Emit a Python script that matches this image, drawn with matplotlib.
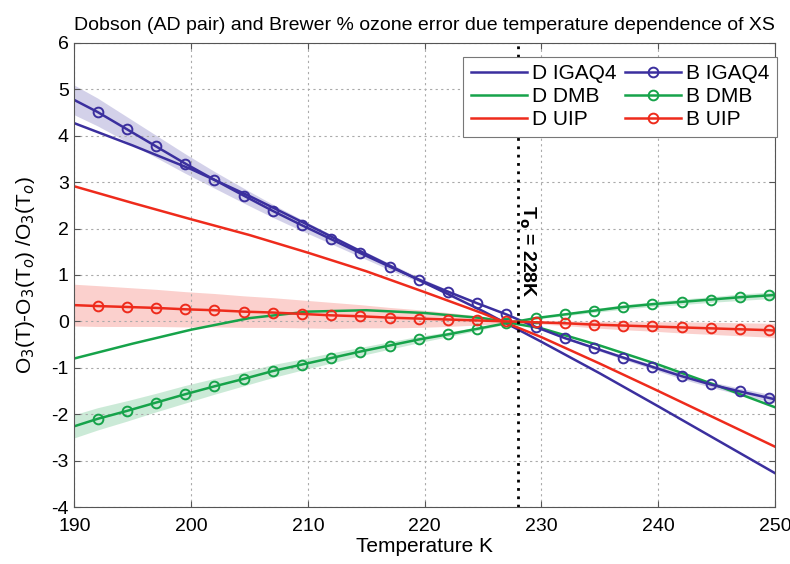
import numpy as np
import matplotlib.pyplot as plt

# temperature grids
T_D = [190, 195, 200, 205, 210, 215, 220, 225, 230, 235, 240, 245, 250]
T_B = [190, 192, 194.5, 197, 199.5, 202, 204.5, 207, 209.5, 212, 214.5, 217, 219.5,
       222, 224.5, 227, 229.5, 232, 234.5, 237, 239.5, 242, 244.5, 247, 249.5, 250]

# Dobson (solid lines)
d_igaq4 = [4.27, 3.79, 3.28, 2.70, 2.08, 1.45, 0.83, 0.22, -0.44, -1.12, -1.83, -2.55, -3.27]
d_dmb = [-0.80, -0.48, -0.18, 0.07, 0.21, 0.24, 0.18, 0.07, -0.15, -0.52, -0.93, -1.38, -1.85]
d_uip = [2.91, 2.55, 2.20, 1.86, 1.48, 1.08, 0.63, 0.17, -0.34, -0.91, -1.50, -2.10, -2.70]

# Brewer (lines with circles) and uncertainty half widths
b_igaq4 = [4.77, 4.51, 4.14, 3.77, 3.40, 3.05, 2.71, 2.38, 2.07, 1.77, 1.47, 1.18, 0.90,
           0.64, 0.39, 0.15, -0.12, -0.36, -0.57, -0.78, -0.98, -1.18, -1.36, -1.51, -1.65, -1.68]
b_dmb = [-2.26, -2.10, -1.93, -1.75, -1.57, -1.40, -1.24, -1.07, -0.93, -0.79, -0.65, -0.52, -0.39,
         -0.28, -0.16, -0.04, 0.07, 0.15, 0.23, 0.31, 0.37, 0.42, 0.47, 0.52, 0.56, 0.57]
b_uip = [0.35, 0.33, 0.31, 0.29, 0.26, 0.24, 0.21, 0.19, 0.16, 0.13, 0.11, 0.08, 0.06,
         0.04, 0.02, 0.00, -0.02, -0.04, -0.07, -0.09, -0.11, -0.13, -0.15, -0.17, -0.19, -0.20]
err_igaq4 = [0.32, 0.30, 0.27, 0.24, 0.21, 0.18, 0.16, 0.14, 0.12, 0.10, 0.08, 0.07, 0.05,
             0.04, 0.02, 0.01, 0.01, 0.02, 0.03, 0.04, 0.05, 0.06, 0.06, 0.07, 0.08, 0.08]
err_dmb = [0.25, 0.24, 0.22, 0.20, 0.19, 0.17, 0.15, 0.14, 0.12, 0.11, 0.09, 0.08, 0.07,
           0.05, 0.04, 0.02, 0.02, 0.03, 0.04, 0.05, 0.05, 0.06, 0.06, 0.07, 0.07, 0.07]
err_uip = [0.45, 0.44, 0.42, 0.40, 0.38, 0.36, 0.34, 0.32, 0.30, 0.28, 0.25, 0.22, 0.19,
           0.15, 0.10, 0.05, 0.03, 0.05, 0.07, 0.09, 0.10, 0.12, 0.13, 0.14, 0.15, 0.16]

T0 = 228

blue = '#3b2f9e'
green = '#16a34a'
red = '#ee2b1c'

plt.rcParams['font.family'] = ['Liberation Sans', 'DejaVu Sans']
plt.rcParams['axes.unicode_minus'] = False

fig = plt.figure(figsize=(7.9, 5.64), dpi=100)
ax = fig.add_axes([0.094, 0.101, 0.887, 0.823])

tb = np.array(T_B)
for b, e, c in [(b_igaq4, err_igaq4, blue), (b_dmb, err_dmb, green), (b_uip, err_uip, red)]:
    b = np.array(b)
    e = np.array(e)
    ax.fill_between(tb, b - e, b + e, color=c, alpha=0.22, lw=0)

h_d = []
for y, c, lab in [(d_igaq4, blue, 'D IGAQ4'), (d_dmb, green, 'D DMB'), (d_uip, red, 'D UIP')]:
    h, = ax.plot(T_D, y, color=c, lw=1.8, label=lab)
    h_d.append(h)

h_b = []
for y, c, lab in [(b_igaq4, blue, 'B IGAQ4'), (b_dmb, green, 'B DMB'), (b_uip, red, 'B UIP')]:
    h, = ax.plot(T_B, y, color=c, lw=1.8, marker='o', ms=7, mfc='none', mec=c, mew=1.4,
                 markevery=slice(1, -1), label=lab)
    h_b.append(h)

ax.axvline(T0, color='black', lw=2, ls=(0, (1, 2)))
ax.text(T0 - 0.05, 1.5, r'T$_\mathbf{o}$ = 228K', rotation=-90, ha='left', va='center',
        fontsize=14, fontweight='bold')

ax.set_xlim(190, 250)
ax.set_ylim(-4, 6)
ax.set_xticks(range(190, 251, 10))
ax.set_yticks(range(-4, 7))
ax.grid(True, color='#aaaaaa', ls=(0, (2, 3)), lw=0.8)
ax.tick_params(direction='in', top=True, right=True, labelsize=14, length=4, color='#555555')
ax.tick_params(axis='x', pad=8)
ax.tick_params(axis='y', pad=4)
for s in ax.spines.values():
    s.set_color('#555555')
    s.set_linewidth(0.8)

ax.set_xlabel('Temperature K', fontsize=15, labelpad=1)
ax.set_ylabel(r'O$_3$(T)-O$_3$(T$_o$) /O$_3$(T$_o$)', fontsize=15, labelpad=10)
ax.set_title('Dobson (AD pair) and Brewer % ozone error due temperature dependence of XS',
             fontsize=14, pad=9)

leg = ax.legend(handles=h_d + h_b, ncol=2, loc='upper right', bbox_to_anchor=(1.003, 0.97),
                borderaxespad=0, fontsize=15, handlelength=2.7, columnspacing=0.4,
                handletextpad=0.25, labelspacing=0.2, borderpad=0.35, fancybox=False,
                framealpha=1, edgecolor='#777777')
leg.get_frame().set_linewidth(0.8)

fig.savefig('out.png', dpi=100)
